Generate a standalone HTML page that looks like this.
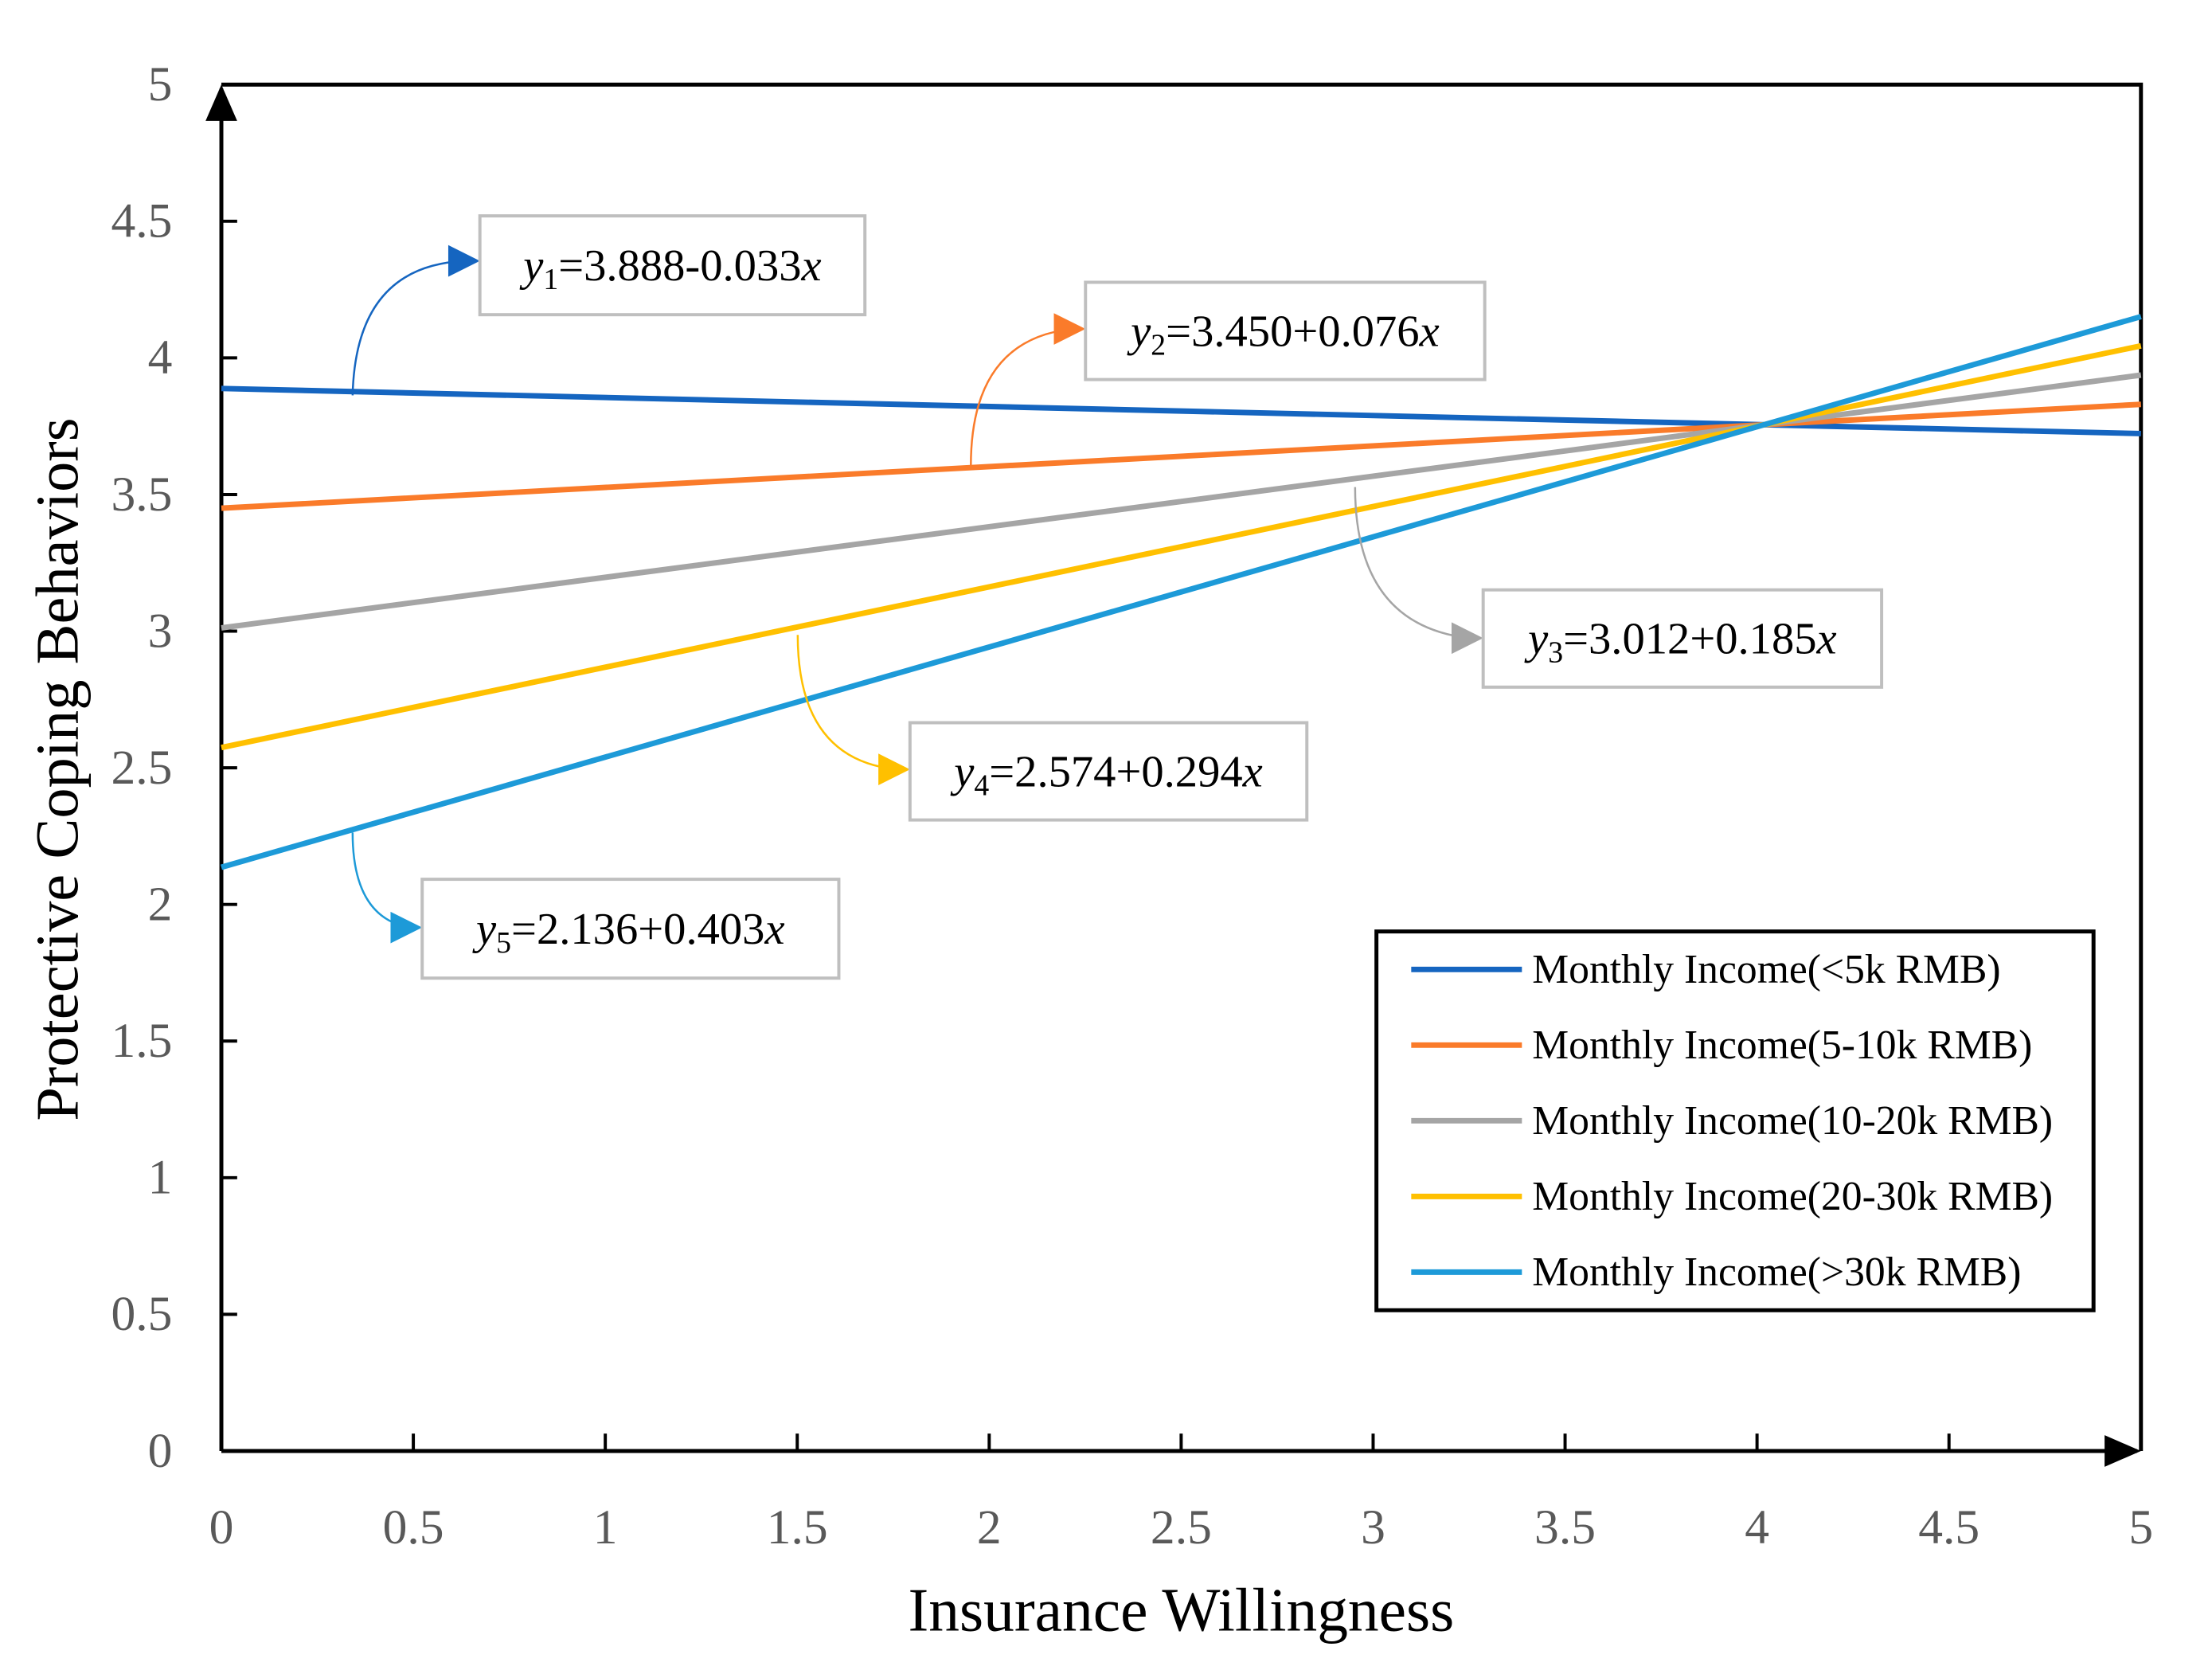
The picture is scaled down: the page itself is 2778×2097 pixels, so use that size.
<!DOCTYPE html>
<html><head><meta charset="utf-8"><style>
html,body{margin:0;padding:0;background:#fff;}
svg{display:block;}
text{font-family:"Liberation Serif",serif;}
</style></head><body>
<svg id="chart" width="2778" height="2097" viewBox="0 0 2778 2097">
<g id="plot" transform="scale(0.9929)"></g>
</svg>
<script>
const categories = ["Monthly Income(<5k RMB)","Monthly Income(5-10k RMB)","Monthly Income(10-20k RMB)","Monthly Income(20-30k RMB)","Monthly Income(>30k RMB)"];
const startValues = [3.888, 3.450, 3.012, 2.574, 2.136];
const endValues = [3.723, 3.830, 3.937, 4.044, 4.151];
const xStart = [0, 0, 0, 0, 0];
const xEnd = [5, 5, 5, 5, 5];
const xTicks = [0,0.5,1,1.5,2,2.5,3,3.5,4,4.5,5];
const yTicks = [0,0.5,1,1.5,2,2.5,3,3.5,4,4.5,5];
const equations = [["1","3.888-0.033"],["2","3.450+0.076"],["3","3.012+0.185"],["4","2.574+0.294"],["5","2.136+0.403"]];
const colors = ["#1565c0","#fa7b2a","#a5a5a5","#ffc000","#1d9ad8"];

const L=280, R=2708, T=107, B=1835;
const xs = v => L + (R-L)*v/5;
const ys = v => B - (B-T)*v/5;
const NS="http://www.w3.org/2000/svg";
const g=document.getElementById('plot');
function mk(tag, attrs, parent){const e=document.createElementNS(NS,tag);for(const k in attrs)e.setAttribute(k,attrs[k]);(parent||g).appendChild(e);return e;}

const frame=mk('path',{d:`M${L},${T} L${R},${T} L${R},${B}`,fill:'none',stroke:'#000','stroke-width':5});


const yAxis=mk('line',{x1:L,y1:B,x2:L,y2:T+5,stroke:'#000','stroke-width':5});


const yArr=mk('path',{d:`M${L-20},${T+46} L${L},${T} L${L+20},${T+46} z`,fill:'#000'});


const xAxis=mk('line',{x1:L,y1:B,x2:R-5,y2:B,stroke:'#000','stroke-width':5});


const xArr=mk('path',{d:`M${R-46},${B-20} L${R},${B} L${R-46},${B+20} z`,fill:'#000'});



yTicks.forEach(v=>{
  if(v>0&&v<5){const t=mk('line',{x1:L,y1:ys(v),x2:L+20,y2:ys(v),stroke:'#000','stroke-width':4});
  
  }
  const lb=mk('text',{x:218,y:ys(v)+20,'text-anchor':'end','font-size':62,fill:'#595959'});
  lb.textContent=String(v);
  
  
});
xTicks.forEach(v=>{
  if(v>0&&v<5){const t=mk('line',{x1:xs(v),y1:B,x2:xs(v),y2:B-22,stroke:'#000','stroke-width':4});
  
  }
  const lb=mk('text',{x:xs(v),y:1952,'text-anchor':'middle','font-size':62,fill:'#595959'});
  lb.textContent=String(v);
  
  
});
const xt=mk('text',{x:1494,y:2062,'text-anchor':'middle','font-size':78,fill:'#000'});
xt.textContent='Insurance Willingness';


const yt=mk('text',{x:0,y:0,'text-anchor':'middle','font-size':77,fill:'#000',transform:'translate(98,973) rotate(-90)'});
yt.textContent='Protective Coping Behaviors';



categories.forEach((c,i)=>{
  const ln=mk('line',{x1:xs(xStart[i]),y1:ys(startValues[i]),x2:xs(xEnd[i]),y2:ys(endValues[i]),stroke:colors[i],'stroke-width':7});
  
  
});

const boxes=[[607,273,487,125],[1373,357,505,123],[1876,746,504,123],[1151,914,502,123],[534,1112,527,125]];
const curves=[[446,500,450,335,590,330],[1228,589,1228,430,1356,416],[1714,616,1714,790,1858,807],[1009,803,1009,960,1134,973],[446,1053,446,1160,518,1173]];
boxes.forEach((b,i)=>{
  const c=curves[i];
  const p=mk('path',{d:`M${c[0]},${c[1]} Q${c[2]},${c[3]} ${c[4]},${c[5]}`,fill:'none',stroke:colors[i],'stroke-width':2.5});
  
  
  const ex=b[0], ey=c[5];
  const h=mk('path',{d:`M${ex},${ey} L${ex-40},${ey-20} L${ex-40},${ey+20} z`,fill:colors[i]});
  
  
  const r=mk('rect',{x:b[0],y:b[1],width:b[2],height:b[3],fill:'#fff',stroke:'#bfbfbf','stroke-width':4});
  
  
  const t=mk('text',{x:b[0]+b[2]/2,y:b[1]+b[3]/2+19,'text-anchor':'middle','font-size':57,fill:'#000'});
  t.innerHTML=`<tspan font-style="italic">y</tspan><tspan font-size="38" dy="11">${equations[i][0]}</tspan><tspan dy="-11">=${equations[i][1]}</tspan><tspan font-style="italic">x</tspan>`;
  
  
});

const lg=mk('rect',{x:1741,y:1178,width:907,height:479,fill:'#fff',stroke:'#000','stroke-width':5});


categories.forEach((c,i)=>{
  const y=1226+i*95.7;
  const l=mk('line',{x1:1785,y1:y,x2:1925,y2:y,stroke:colors[i],'stroke-width':7});
  
  
  const t=mk('text',{x:1938,y:y+17,'font-size':52,fill:'#000'});
  t.textContent=c;
  
  
});
</script>
</body></html>
